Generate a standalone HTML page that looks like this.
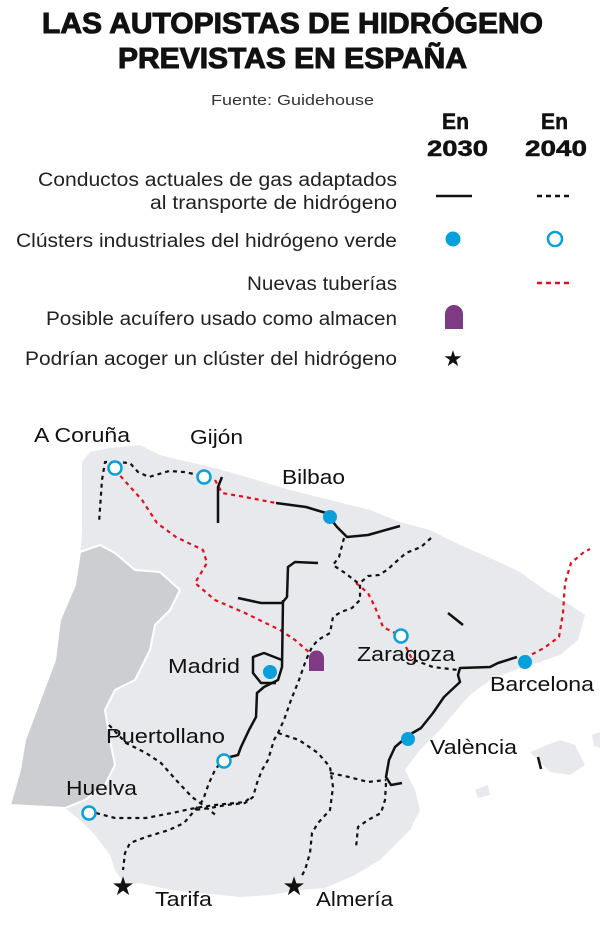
<!DOCTYPE html>
<html><head><meta charset="utf-8"><style>
html,body{margin:0;padding:0;background:#fff;}
svg{display:block;}
text{font-family:"Liberation Sans",sans-serif;}
</style></head><body>
<svg width="600" height="928" viewBox="0 0 600 928" xmlns="http://www.w3.org/2000/svg">
<!-- Title -->
<text x="42" y="33" font-size="29" font-weight="bold" textLength="501" lengthAdjust="spacingAndGlyphs" fill="#111" stroke="#111" stroke-width="1">LAS AUTOPISTAS DE HIDRÓGENO</text>
<text x="118" y="68" font-size="29" font-weight="bold" textLength="349" lengthAdjust="spacingAndGlyphs" fill="#111" stroke="#111" stroke-width="1">PREVISTAS EN ESPAÑA</text>
<text x="211" y="105" font-size="15" textLength="163" lengthAdjust="spacingAndGlyphs" fill="#333">Fuente: Guidehouse</text>
<g font-size="22" font-weight="bold" fill="#111" stroke="#111" stroke-width="0.5">
<text x="442" y="129" textLength="27" lengthAdjust="spacingAndGlyphs">En</text>
<text x="541" y="129" textLength="27" lengthAdjust="spacingAndGlyphs">En</text>
<text x="427" y="156" textLength="61" lengthAdjust="spacingAndGlyphs">2030</text>
<text x="525" y="156" textLength="62" lengthAdjust="spacingAndGlyphs">2040</text>
</g>
<g font-size="19" fill="#222">
<text x="38" y="186" textLength="359" lengthAdjust="spacingAndGlyphs">Conductos actuales de gas adaptados</text>
<text x="150" y="209" textLength="247" lengthAdjust="spacingAndGlyphs">al transporte de hidrógeno</text>
<text x="16" y="247" textLength="381" lengthAdjust="spacingAndGlyphs">Clústers industriales del hidrógeno verde</text>
<text x="247" y="290" textLength="150" lengthAdjust="spacingAndGlyphs">Nuevas tuberías</text>
<text x="46" y="325" textLength="351" lengthAdjust="spacingAndGlyphs">Posible acuífero usado como almacen</text>
<text x="25" y="365" textLength="372" lengthAdjust="spacingAndGlyphs">Podrían acoger un clúster del hidrógeno</text>
</g>
<line x1="436" y1="196" x2="472" y2="196" stroke="#111" stroke-width="2.5"/>
<line x1="537" y1="196" x2="572" y2="196" stroke="#111" stroke-width="2.5" stroke-dasharray="5 4"/>
<circle cx="453" cy="239" r="7.5" fill="#0aa0dc"/>
<circle cx="555" cy="239" r="7" fill="#fff" stroke="#0aa0dc" stroke-width="2.5"/>
<line x1="537" y1="283" x2="572" y2="283" stroke="#e0101e" stroke-width="2.5" stroke-dasharray="5 4"/>
<path d="M445 329 V314 A9 9 0 0 1 463 314 V329 Z" fill="#7e3a82"/>
<text x="453" y="366" font-size="22" text-anchor="middle" fill="#111">★</text>

<!-- Map -->
<path d="M82 462 L90 452 L110 448 L140 445 L160 455 L180 460 L215 468 L250 478 L290 490 L330 500 L370 510 L400 522 L430 530 L460 545 L490 558 L520 572 L545 590 L570 605 L585 615 L578 640 L560 655 L540 662 L515 670 L490 680 L470 695 L455 712 L440 730 L420 750 L405 770 L415 790 L420 810 L410 830 L395 845 L380 860 L355 875 L325 888 L300 890 L270 895 L240 897 L200 893 L170 890 L140 883 L125 885 L115 870 L110 855 L95 835 L80 820 L65 808 L40 806 L10 805 L20 770 L25 740 L40 700 L55 660 L60 620 L75 585 L80 560 L82 530 Z" fill="#e8e9ec"/>
<path d="M80 552 L100 545 L115 553 L135 570 L160 572 L180 590 L170 610 L155 625 L150 650 L135 680 L115 690 L105 710 L110 740 L115 765 L105 785 L85 800 L65 808 L10 805 L20 770 L25 740 L40 700 L55 660 L60 620 L75 585 Z" fill="#ccced2" stroke="#fff" stroke-width="2"/>
<path d="M530 752 L560 740 L575 745 L585 765 L570 775 L550 772 Z" fill="#e8e9ec"/>
<path d="M592 735 L600 732 L600 748 L594 746 Z" fill="#e8e9ec"/>
<path d="M475 790 L488 785 L490 795 L478 798 Z" fill="#e8e9ec"/>

<g fill="none" stroke="#e0101e" stroke-width="2.2" stroke-dasharray="4 4">
<polyline points="115,470 142,500 157,523 176,537 203,550 207,563 195,583 215,600 245,613 280,630 295,640 310,653"/>
<polyline points="215,480 222,493 245,497 276,503"/>
<polyline points="356,583 368,593 375,607 383,627 395,633"/>
<polyline points="406,647 414,663"/>
<polyline points="525,658 544,648 559,637 563,613 565,583 571,563 584,552 590,549"/>
</g>
<g fill="none" stroke="#111" stroke-width="2.5" stroke-linejoin="round">
<polyline points="222,477 218,487 218,523"/>
<polyline points="276,503 306,507 326,513 337,527 347,537 368,535 400,526"/>
<polyline points="238,598 261,603 282,603 287,597 288,567 295,562 318,563"/>
<polyline points="283,600 282,667 278,680 264,687 257,693 256,717 249,730 241,747 238,755 230,757"/>
<polyline points="282,660 264,653 253,657 253,673 261,683 276,683"/>
<line x1="448" y1="613" x2="463" y2="625"/>
<polyline points="517,657 498,663 490,667 460,668 458,675 460,682 444,697 433,713 421,728 409,735 395,747 389,760 386,777 391,785 402,783"/>
<line x1="538" y1="757" x2="541" y2="769"/>
</g>
<g fill="none" stroke="#111" stroke-width="2.2" stroke-dasharray="4 4" stroke-linejoin="round">
<polyline points="115,462 105,462 102,480 99,523"/>
<polyline points="115,462 130,463 138,472 149,477 169,471 184,472 199,475"/>
<polyline points="344,538 339,557 333,565 345,573 358,583"/>
<polyline points="414,660 433,667 458,670"/>
<polyline points="431,538 421,547 406,553 398,560 387,570 379,575 368,576 360,583 360,600 352,608 341,612 333,617 330,633 318,640 312,647 306,660 299,680 291,700 284,720 278,733 274,740 268,760 262,770 257,783 253,797 245,803 226,805 210,808 195,810"/>
<polyline points="224,758 215,770 209,783 203,800 195,810 184,823 169,830 146,837 130,843 125,853 123,870"/>
<polyline points="96,813 115,818 146,818 172,813 195,808 215,805 245,802 251,797"/>
<polyline points="109,725 126,743 146,753 161,763 176,780 192,797 207,808 218,817"/>
<polyline points="278,733 299,740 318,753 330,767 333,787 330,810 318,823 312,833 310,853 305,870 301,877"/>
<polyline points="330,773 349,777 368,782 386,780"/>
<polyline points="386,783 385,800 381,813 368,820 358,827 356,848"/>
</g>
<g fill="#0aa0dc">
<circle cx="330" cy="517" r="7"/><circle cx="270" cy="672" r="7"/><circle cx="525" cy="662" r="7"/><circle cx="408" cy="739" r="7"/>
</g>
<g fill="#fff" stroke="#0aa0dc" stroke-width="2.5">
<circle cx="115" cy="468" r="6.5"/><circle cx="204" cy="477" r="6.5"/><circle cx="401" cy="636" r="6.5"/><circle cx="224" cy="761" r="6.5"/><circle cx="89" cy="813" r="6.5"/>
</g>
<path d="M309 671 V658 A7.5 7.5 0 0 1 324 658 V671 Z" fill="#7e3a82"/>
<text x="123" y="895" font-size="26" text-anchor="middle" fill="#111">★</text>
<text x="294" y="895" font-size="26" text-anchor="middle" fill="#111">★</text>
<g font-size="20" fill="#111">
<text x="34" y="442" textLength="96" lengthAdjust="spacingAndGlyphs">A Coruña</text>
<text x="190" y="444" textLength="53" lengthAdjust="spacingAndGlyphs">Gijón</text>
<text x="282" y="484" textLength="63" lengthAdjust="spacingAndGlyphs">Bilbao</text>
<text x="168" y="673" textLength="72" lengthAdjust="spacingAndGlyphs">Madrid</text>
<text x="357" y="661" textLength="98" lengthAdjust="spacingAndGlyphs">Zaragoza</text>
<text x="490" y="691" textLength="104" lengthAdjust="spacingAndGlyphs">Barcelona</text>
<text x="430" y="754" textLength="87" lengthAdjust="spacingAndGlyphs">València</text>
<text x="106" y="743" textLength="119" lengthAdjust="spacingAndGlyphs">Puertollano</text>
<text x="66" y="795" textLength="71" lengthAdjust="spacingAndGlyphs">Huelva</text>
<text x="155" y="906" textLength="57" lengthAdjust="spacingAndGlyphs">Tarifa</text>
<text x="316" y="906" textLength="77" lengthAdjust="spacingAndGlyphs">Almería</text>
</g>
</svg>
</body></html>
